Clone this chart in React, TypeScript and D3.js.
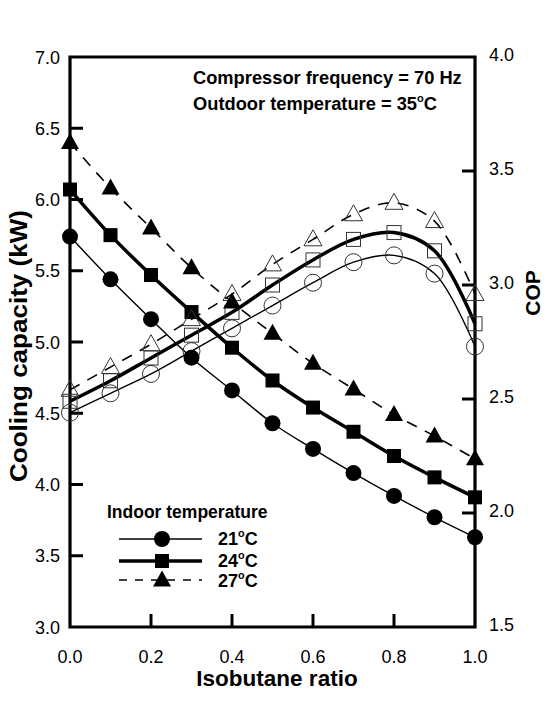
import React from "react";
import * as d3 from "d3";

const ratios = [0, 0.1, 0.2, 0.3, 0.4, 0.5, 0.6, 0.7, 0.8, 0.9, 1.0];
const capacity21 = [5.74, 5.44, 5.16, 4.89, 4.66, 4.43, 4.25, 4.08, 3.92, 3.77, 3.63];
const capacity24 = [6.07, 5.75, 5.47, 5.21, 4.96, 4.73, 4.54, 4.37, 4.2, 4.05, 3.91];
const capacity27 = [6.4, 6.08, 5.8, 5.52, 5.28, 5.06, 4.85, 4.67, 4.49, 4.34, 4.18];
const cop21 = [2.44, 2.525, 2.61, 2.71, 2.81, 2.91, 3.01, 3.1, 3.13, 3.05, 2.73];
const cop24 = [2.49, 2.58, 2.68, 2.78, 2.88, 3.0, 3.11, 3.2, 3.23, 3.15, 2.83];
const cop27 = [2.54, 2.64, 2.74, 2.85, 2.96, 3.09, 3.2, 3.31, 3.36, 3.28, 2.96];
const xTicks = [0, 0.2, 0.4, 0.6, 0.8, 1.0];
const leftTicks = [3.0, 3.5, 4.0, 4.5, 5.0, 5.5, 6.0, 6.5, 7.0];
const rightTicks = [1.5, 2.0, 2.5, 3.0, 3.5, 4.0];
const legendLabels = ["21", "24", "27"];

const FONT = "'Liberation Sans', Arial, sans-serif";
const L = 70, R = 475, T = 57, B = 627;

type Kind = "circle" | "square" | "triangle";

function Marker({ kind, x, y, filled }: { kind: Kind; x: number; y: number; filled: boolean }) {
  const fill = filled ? "#000" : "none";
  const stroke = filled ? "none" : "#333";
  const sw = filled ? 0 : 1;
  if (kind === "circle") {
    const r = filled ? 8 : 8.5;
    return <circle cx={x} cy={y} r={r} fill={fill} stroke={stroke} strokeWidth={sw} />;
  }
  if (kind === "square") {
    const s = filled ? 14 : 14;
    return <rect x={x - s / 2} y={y - s / 2} width={s} height={s} fill={fill} stroke={stroke} strokeWidth={sw} />;
  }
  const w = 18, h = 16;
  const pts = `${x},${y - h * 0.6} ${x - w / 2},${y + h * 0.4} ${x + w / 2},${y + h * 0.4}`;
  return <polygon points={pts} fill={fill} stroke={stroke} strokeWidth={sw} />;
}

function Deg({ base, fs }: { base: string; fs: number }) {
  return (
    <>
      {base}
      <tspan fontSize={fs * 0.6} dy={-fs * 0.42}>o</tspan>
      <tspan fontSize={fs} dy={fs * 0.42}>C</tspan>
    </>
  );
}

export default function App() {
  const x = d3.scaleLinear().domain([0, 1]).range([L, R]);
  const yL = d3.scaleLinear().domain([3, 7]).range([B, T]);
  const yR = d3.scaleLinear().domain([1.5, 4]).range([B, T]);

  const series = [
    { cap: capacity21, cop: cop21, kind: "circle" as Kind, width: 1.4, dash: undefined as string | undefined },
    { cap: capacity24, cop: cop24, kind: "square" as Kind, width: 3.5, dash: undefined as string | undefined },
    { cap: capacity27, cop: cop27, kind: "triangle" as Kind, width: 1.6, dash: "11,9" },
  ];

  const lineL = d3
    .line<number>()
    .x((_, i) => x(ratios[i]))
    .y((d) => yL(d))
    .curve(d3.curveCatmullRom.alpha(0.5));
  const lineR = d3
    .line<number>()
    .x((_, i) => x(ratios[i]))
    .y((d) => yR(d))
    .curve(d3.curveCatmullRom.alpha(0.5));

  const legendRows = [539, 561, 580];
  const legendBase = [545, 567, 587];

  return (
    <svg
      width={554}
      height={701}
      style={{ position: "absolute", left: 0, top: 0, background: "#fff" }}
      fontFamily={FONT}
    >
      <rect x={0} y={0} width={554} height={701} fill="#fff" />

      {/* data lines */}
      {series.map((s, k) => (
        <g key={"l" + k}>
          <path d={lineL(s.cap) || ""} fill="none" stroke="#000" strokeWidth={s.width} strokeDasharray={s.dash} />
          <path d={lineR(s.cop) || ""} fill="none" stroke="#000" strokeWidth={s.width} strokeDasharray={s.dash} />
        </g>
      ))}

      {/* axes frame */}
      <path d={`M${L},${T}H${R}V${B}H${L}Z`} fill="none" stroke="#000" strokeWidth={3.2} />
      {xTicks.slice(1, -1).map((t) => (
        <line key={"xt" + t} x1={x(t)} x2={x(t)} y1={B} y2={B - 13} stroke="#000" strokeWidth={3} />
      ))}
      {leftTicks.slice(1, -1).map((t) => (
        <line key={"lt" + t} x1={L} x2={L + 13} y1={yL(t)} y2={yL(t)} stroke="#000" strokeWidth={3} />
      ))}
      {rightTicks.slice(1, -1).map((t) => (
        <line key={"rt" + t} x1={R} x2={R - 13} y1={yR(t)} y2={yR(t)} stroke="#000" strokeWidth={3} />
      ))}

      {/* markers */}
      {series.map((s, k) => (
        <g key={"m" + k}>
          {s.cop.map((v, i) => (
            <Marker key={"o" + i} kind={s.kind} x={x(ratios[i])} y={yR(v)} filled={false} />
          ))}
          {s.cap.map((v, i) => (
            <Marker key={"f" + i} kind={s.kind} x={x(ratios[i])} y={yL(v)} filled={true} />
          ))}
        </g>
      ))}

      {/* tick labels */}
      {xTicks.map((t) => (
        <text key={"xl" + t} x={x(t)} y={663} fontSize={18} textAnchor="middle" fill="#000">
          {t.toFixed(1)}
        </text>
      ))}
      {leftTicks.map((t) => (
        <text key={"ll" + t} x={60} y={yL(t) + 6.5} fontSize={18} textAnchor="end" fill="#000">
          {t.toFixed(1)}
        </text>
      ))}
      {rightTicks.map((t) => (
        <text key={"rl" + t} x={489} y={yR(t) + 4} fontSize={18} textAnchor="start" fill="#000">
          {t.toFixed(1)}
        </text>
      ))}

      {/* axis titles */}
      <text x={277} y={686} fontSize={22.5} fontWeight="bold" textAnchor="middle" fill="#000">
        Isobutane ratio
      </text>
      <text
        transform="translate(27,346) rotate(-90)"
        fontSize={23}
        fontWeight="bold"
        textAnchor="middle"
        textLength={272}
        lengthAdjust="spacingAndGlyphs"
        fill="#000"
      >
        Cooling capacity (kW)
      </text>
      <text transform="translate(540,293) rotate(-90)" fontSize={21} fontWeight="bold" textAnchor="middle" fill="#000">
        COP
      </text>

      {/* annotations */}
      <text x={193} y={84} fontSize={18.3} fontWeight="bold" fill="#000">
        Compressor frequency = 70 Hz
      </text>
      <text x={193} y={110} fontSize={18.3} fontWeight="bold" fill="#000">
        <Deg base="Outdoor temperature = 35" fs={18.3} />
      </text>

      {/* legend */}
      <text x={107} y={518} fontSize={17.5} fontWeight="bold" fill="#000">
        Indoor temperature
      </text>
      {series.map((s, k) => (
        <g key={"lg" + k}>
          <line
            x1={119}
            x2={202}
            y1={legendRows[k]}
            y2={legendRows[k]}
            stroke="#000"
            strokeWidth={s.width}
            strokeDasharray={s.dash ? "8,8" : undefined}
          />
          <Marker kind={s.kind} x={162} y={legendRows[k]} filled={true} />
          <text x={218} y={legendBase[k]} fontSize={18} fontWeight="bold" fill="#000">
            <Deg base={legendLabels[k]} fs={18} />
          </text>
        </g>
      ))}
    </svg>
  );
}
